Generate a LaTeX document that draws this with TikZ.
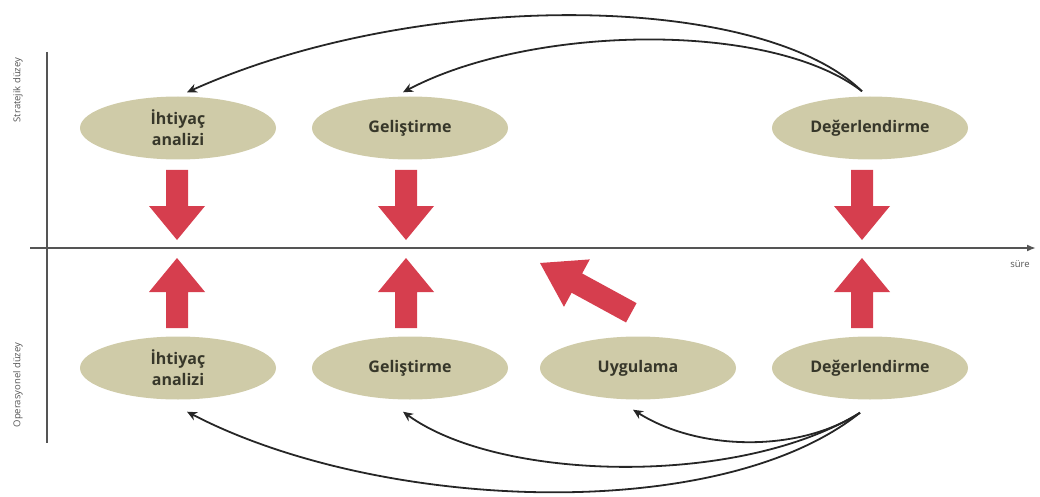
\documentclass[tikz,border=0pt]{standalone}
\usepackage{fontspec}
\setmainfont{Open Sans}
\usetikzlibrary{arrows.meta,shapes.geometric,calc}
\definecolor{khaki}{RGB}{207,203,168}
\definecolor{arrowred}{RGB}{214,62,78}
\definecolor{txt}{RGB}{55,55,42}
\definecolor{axisgray}{RGB}{85,85,85}
\begin{document}
\begin{tikzpicture}[x=1pt,y=-1pt,
  stage/.style={ellipse, fill=khaki, minimum width=196pt, minimum height=63pt, inner sep=0pt,
    font=\bfseries\fontsize{16}{21}\selectfont, text=txt, align=center},
  link/.style={draw=black!85, line width=1.8pt, -{Stealth[length=10pt,width=9pt]}},
  axisline/.style={draw=axisgray, line width=2pt},
  axislabel/.style={font=\fontsize{9.5}{10}\selectfont, text=axisgray, inner sep=0pt},
  vblock/.pic={\fill[arrowred] (0,0) -- (-34,-28) -- (-34,-11) -- (-70,-11) -- (-70,11) -- (-34,11) -- (-34,28) -- cycle;},
  dblock/.pic={\fill[arrowred] (0,0) -- (-42,-27) -- (-42,-11) -- (-104,-11) -- (-104,11) -- (-42,11) -- (-42,27) -- cycle;}
]
\useasboundingbox (0,0) rectangle (1040,497);

% axes
\coordinate (xs) at (30,248);
\coordinate (xe) at (1036,248);
\coordinate (ys) at (47,52);
\coordinate (ye) at (47,443);
\draw[axisline,-{Latex[length=9pt,width=7pt]}] (xs) -- (xe);
\draw[axisline] (ys) -- (ye);
\node[axislabel] (sure) at (1020,264) {süre};
\node[axislabel, rotate=90] (strat) at (18,90) {Stratejik düzey};
\node[axislabel, rotate=90] (oper) at (18,385) {Operasyonel düzey};

% stages
\node[stage] (ia1) at (178,128) {İhtiyaç\\analizi};
\node[stage] (g1) at (410,128) {Geliştirme};
\node[stage] (d1) at (870,128) {Değerlendirme};
\node[stage] (ia2) at (178,368) {İhtiyaç\\analizi};
\node[stage] (g2) at (410,368) {Geliştirme};
\node[stage] (u2) at (638,368) {Uygulama};
\node[stage] (d2) at (870,368) {Değerlendirme};

% red block arrows
\pic[rotate=-90] at (177,240) {vblock};
\pic[rotate=-90] at (406,240) {vblock};
\pic[rotate=-90] at (862,240) {vblock};
\pic[rotate=90] at (177,258) {vblock};
\pic[rotate=90] at (406,258) {vblock};
\pic[rotate=90] at (862,258) {vblock};
\pic[rotate=151.4] at (540,263) {dblock};

% feedback curves
\coordinate (d1s) at ($(d1.north)+(-8,-5)$);
\coordinate (ia1t) at ($(ia1.north)+(9,-4)$);
\coordinate (g1t) at ($(g1.north)+(-7,-4)$);
\coordinate (d2s) at ($(d2.south)+(-10,13)$);
\coordinate (ia2b) at ($(ia2.south)+(9,12)$);
\coordinate (g2b) at ($(g2.south)+(-7,12)$);
\coordinate (u2b) at ($(u2.south)+(-5,10)$);

\draw[link] (d1s) .. controls (760,-8) and (420,-12) .. (ia1t);
\draw[link] (d1s) .. controls (770,20) and (530,25) .. (g1t);
\draw[link] (d2s) .. controls (720,525) and (380,512) .. (ia2b);
\draw[link] (d2s) .. controls (740,487) and (500,482) .. (g2b);
\draw[link] (d2s) .. controls (800,452) and (700,452) .. (u2b);
\end{tikzpicture}
\end{document}
